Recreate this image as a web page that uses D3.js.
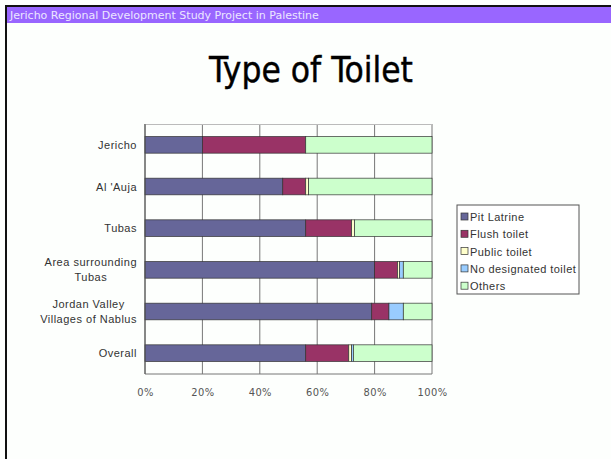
<!DOCTYPE html>
<html>
<head>
<meta charset="utf-8">
<script src="https://cdn.jsdelivr.net/npm/d3@7"></script>
<style>
  body { margin: 0; background: #fff; }
  svg { display: block; }
</style>
</head>
<body>
<div id="chart"></div>
<script>
const width = 611;
const height = 459;

// data (percent of households)
const regions = [
    ["Jericho"],
    ["Al 'Auja"],
    ["Tubas"],
    ["Area surrounding", "Tubas"],
    ["Jordan Valley", "Villages of Nablus"],
    ["Overall"]
];
const types = ["Pit Latrine", "Flush toilet", "Public toilet", "No designated toilet", "Others"];
const pitLatrine = [20, 48, 56, 80, 79, 56];
const flushToilet = [36, 8, 16, 8, 6, 15];
const publicToilet = [0, 1, 1, 0.7, 0, 1];
const noToilet = [0, 0, 0, 1.3, 5, 0.6];
const others = [44, 43, 27, 10, 10, 27.4];
const xTicks = [0, 0.2, 0.4, 0.6, 0.8, 1];
const colors = ["#666699", "#993366", "#ffffcc", "#99ccff", "#ccffcc"];

const series = [pitLatrine, flushToilet, publicToilet, noToilet, others];
const rows = regions.map((r, i) => {
    const row = { key: r.join(" ") };
    types.forEach((t, j) => { row[t] = series[j][i] / 100; });
    return row;
});

const svg = d3.select("#chart")
    .append("svg")
    .attr("width", width)
    .attr("height", height);

// page frame and header strip
svg.append("rect").attr("x", 0).attr("y", 0).attr("width", width).attr("height", height).attr("fill", "#fdfffd");
svg.append("rect").attr("x", 5).attr("y", 5).attr("width", width - 5).attr("height", 2).attr("fill", "#111");
svg.append("rect").attr("x", 5).attr("y", 5).attr("width", 2).attr("height", height - 5).attr("fill", "#111");
svg.append("rect").attr("x", 7).attr("y", 7).attr("width", width - 7).attr("height", 16).attr("fill", "#9966ff");
svg.append("text")
    .attr("x", 10).attr("y", 19)
    .attr("fill", "#ece6ff")
    .style("font-family", "'DejaVu Sans', sans-serif")
    .style("font-size", "11px")
    .text("Jericho Regional Development Study Project in Palestine");

svg.append("text")
    .attr("x", 311).attr("y", 82)
    .attr("text-anchor", "middle")
    .attr("fill", "#000")
    .style("font-family", "'DejaVu Sans Condensed', 'DejaVu Sans', sans-serif")
    .style("font-size", "35px")
    .style("stroke", "#000")
    .style("stroke-width", "0.4px")
    .text("Type of Toilet");

const plot = { left: 145, right: 432, top: 124, bottom: 374 };

const x = d3.scaleLinear().domain([0, 1]).range([plot.left, plot.right]);
const y = d3.scaleBand()
    .domain(rows.map(d => d.key))
    .range([plot.top, plot.bottom])
    .paddingInner(0.6)
    .paddingOuter(0.3);

// gridlines
svg.append("g")
    .selectAll("line")
    .data(xTicks)
    .join("line")
    .attr("x1", d => x(d)).attr("x2", d => x(d))
    .attr("y1", plot.top).attr("y2", plot.bottom)
    .attr("stroke", "#777")
    .attr("stroke-width", 1);

svg.append("line")
    .attr("x1", plot.left).attr("x2", plot.right)
    .attr("y1", plot.top + 0.5).attr("y2", plot.top + 0.5)
    .attr("stroke", "#bbb");
svg.append("line")
    .attr("x1", plot.left).attr("x2", plot.right)
    .attr("y1", plot.bottom).attr("y2", plot.bottom)
    .attr("stroke", "#777");

const stack = d3.stack().keys(types);
const stacked = stack(rows);

svg.append("g")
    .selectAll("g")
    .data(stacked)
    .join("g")
    .attr("fill", (d, i) => colors[i])
    .selectAll("rect")
    .data(d => d.filter(v => v[1] - v[0] > 0))
    .join("rect")
    .attr("x", d => x(d[0]))
    .attr("y", d => y(d.data.key))
    .attr("width", d => x(d[1]) - x(d[0]))
    .attr("height", y.bandwidth())
    .attr("stroke", "#333")
    .attr("stroke-width", 0.7);

// left axis line
svg.append("line")
    .attr("x1", plot.left).attr("x2", plot.left)
    .attr("y1", plot.top).attr("y2", plot.bottom)
    .attr("stroke", "#555");

// category labels
const labelFont = "'Liberation Sans', Arial, sans-serif";
const labels = svg.append("g")
    .selectAll("g")
    .data(regions)
    .join("g");

labels.each(function (lines, i) {
    const g = d3.select(this);
    const cy = y(rows[i].key) + y.bandwidth() / 2;
    const lh = 15;
    const texts = g.selectAll("text")
        .data(lines)
        .join("text")
        .attr("y", (d, k) => cy + (k - (lines.length - 1) / 2) * lh + 4)
        .attr("fill", "#333")
        .style("font-family", labelFont)
        .style("font-size", "11px")
        .style("letter-spacing", "0.5px")
        .text(d => d);
    let maxW = 0;
    texts.each(function () { maxW = Math.max(maxW, this.getComputedTextLength()); });
    texts.attr("x", 137 - maxW / 2).attr("text-anchor", "middle");
});

// x axis labels
const xAxis = d3.axisBottom(x)
    .tickValues(xTicks)
    .tickSize(0)
    .tickPadding(14)
    .tickFormat(d3.format(".0%"));
const ax = svg.append("g")
    .attr("transform", `translate(0,${plot.bottom})`)
    .call(xAxis);
ax.select(".domain").remove();
ax.selectAll("text")
    .attr("fill", "#555")
    .style("font-family", "'DejaVu Sans Condensed', 'DejaVu Sans', sans-serif")
    .style("font-size", "11px")
    .style("letter-spacing", "0.4px");

// legend
const legend = svg.append("g").attr("transform", "translate(457,205)");
legend.append("rect")
    .attr("width", 122).attr("height", 89)
    .attr("fill", "#fff")
    .attr("stroke", "#555")
    .attr("stroke-width", 1);
const items = legend.selectAll("g.item")
    .data(types)
    .join("g")
    .attr("class", "item")
    .attr("transform", (d, i) => `translate(4,${12 + i * 17.3})`);
items.append("rect")
    .attr("x", 0).attr("y", -4)
    .attr("width", 7).attr("height", 7)
    .attr("fill", (d, i) => colors[i])
    .attr("stroke", "#333")
    .attr("stroke-width", 0.7);
items.append("text")
    .attr("x", 9).attr("y", 4)
    .attr("fill", "#333")
    .style("font-family", labelFont)
    .style("font-size", "11px")
    .style("letter-spacing", "0.45px")
    .text(d => d);
</script>
</body>
</html>
